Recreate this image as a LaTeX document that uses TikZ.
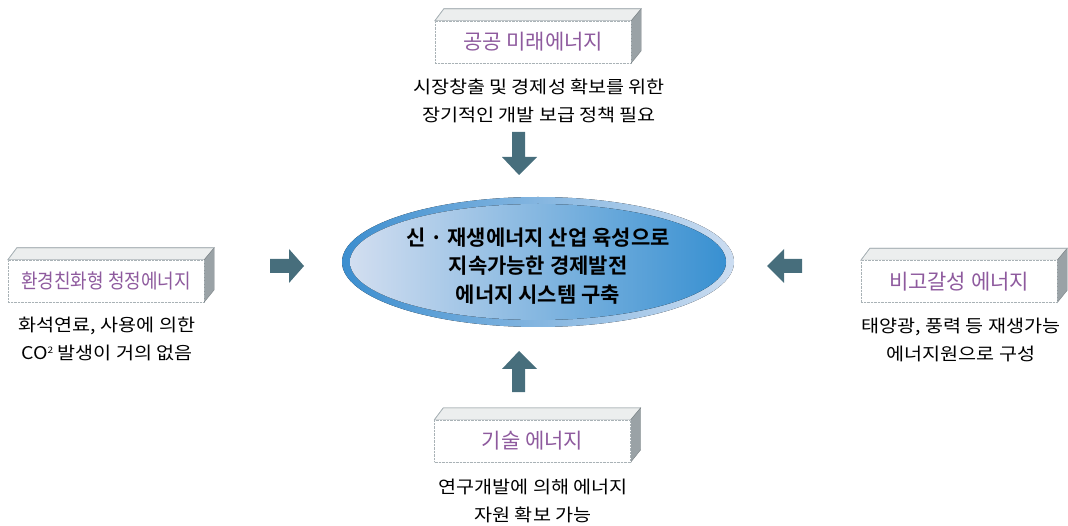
\documentclass[tikz,border=0pt]{standalone}
\usepackage{fontspec}
\setmainfont{Noto Sans CJK KR}
\newfontfamily\boldkr{Noto Sans CJK KR Bold}
\newfontfamily\bodykr[FakeStretch=1.12]{Noto Sans CJK KR}
\newfontfamily\condkr[FakeStretch=0.9]{Noto Sans CJK KR}
\usetikzlibrary{calc}
\definecolor{titlec}{HTML}{8E5A9E}
\definecolor{arrowc}{HTML}{476E7C}
\definecolor{ringL}{HTML}{3C8ECF}
\definecolor{ringR}{HTML}{CCDDF1}
\definecolor{coreL}{HTML}{D2DEF0}
\definecolor{coreR}{HTML}{3890D1}
\definecolor{sidec}{HTML}{9AA2A6}
\definecolor{topc}{HTML}{ECEEEE}
\definecolor{edgec}{HTML}{A9B2B6}
\tikzset{
  front/.style={draw=edgec, densely dotted, fill=white, minimum width=196pt, minimum height=42pt, inner sep=0pt,
    text=titlec, font=\fontsize{21}{23}\selectfont},
  topface/.style={draw=edgec, fill=topc, line width=0.6pt},
  sideface/.style={draw=sidec!80!black, fill=sidec, line width=0.4pt},
  desc/.style={align=center, font=\bodykr\fontsize{17.5}{28}\selectfont, text=black, inner sep=0pt},
  blockarrow/.style={fill=arrowc, draw=none},
  coretext/.style={align=center, font=\boldkr\fontsize{21}{28.5}\selectfont, inner sep=0pt}
}
\newcommand{\boxfaces}[1]{%
  \fill[topface] (#1.north west) -- ++(9,-12) -- ($(#1.north east)+(10,-12)$) -- (#1.north east) -- cycle;
  \fill[sideface] (#1.north east) -- ++(10,-12) -- ++(0,42) -- (#1.south east) -- cycle;
  \draw[edgec, line width=0.6pt] (#1.north west) -- ++(9,-12) -- ($(#1.north east)+(10,-12)$);
}
\begin{document}
\begin{tikzpicture}[x=1pt,y=-1pt]
\useasboundingbox (0,0) rectangle (1068,526);
% central ellipse
\fill[left color=ringL, right color=ringR] (538,262) ellipse [x radius=196, y radius=65];
\fill[left color=coreL, right color=coreR] (538,262) ellipse [x radius=188, y radius=58];
\node[coretext] (core) at (538,266) {신 · 재생에너지 산업 육성으로\\지속가능한 경제발전\\에너지 시스템 구축};
% top box
\node[front] (pub) at (533,42) {공공 미래에너지};
\boxfaces{pub}
\node[front] (pub) at (533,42) {공공 미래에너지};
\node[desc] (pubd) at (539,101) {시장창출 및 경제성 확보를 위한\\장기적인 개발 보급 정책 필요};
% left box
\node[front] (env) at (106,281) {\condkr\fontsize{20}{22}\selectfont 환경친화형 청정에너지};
\boxfaces{env}
\node[front] (env) at (106,281) {\condkr\fontsize{20}{22}\selectfont 환경친화형 청정에너지};
\node[desc] (envd) at (107,339) {화석연료, 사용에 의한\\CO\raisebox{0.6ex}{\fontsize{9}{9}\selectfont 2} 발생이 거의 없음};
% right box
\node[front] (nonc) at (959,281.5) {비고갈성 에너지};
\boxfaces{nonc}
\node[front] (nonc) at (959,281.5) {비고갈성 에너지};
\node[desc] (noncd) at (961,340) {태양광, 풍력 등 재생가능\\에너지원으로 구성};
% bottom box
\node[front] (tech) at (532.5,441) {기술 에너지};
\boxfaces{tech}
\node[front] (tech) at (532.5,441) {기술 에너지};
\node[desc] (techd) at (533,501) {연구개발에 의해 에너지\\자원 확보 가능};
% block arrows
\fill[blockarrow] (512,132) -- (525,132) -- (525,157) -- (537,157) -- (519,175) -- (502,157) -- (512,157) -- cycle;
\fill[blockarrow] (512,392) -- (525,392) -- (525,369) -- (537,369) -- (519,351) -- (502,369) -- (512,369) -- cycle;
\fill[blockarrow] (270,259) -- (289,259) -- (289,249) -- (304,266) -- (289,283) -- (289,273) -- (270,273) -- cycle;
\fill[blockarrow] (802,259) -- (784,259) -- (784,249) -- (767,266) -- (784,283) -- (784,273) -- (802,273) -- cycle;
\end{tikzpicture}
\end{document}
